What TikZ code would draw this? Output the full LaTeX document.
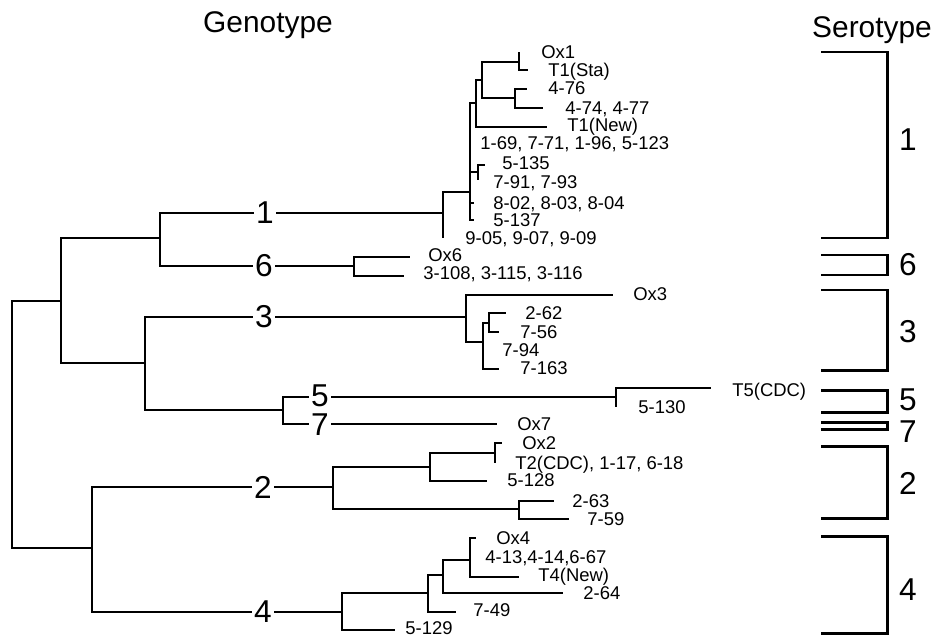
\documentclass[tikz,border=0pt]{standalone}
\usepackage{fontspec}
\setmainfont{Liberation Sans}
\usepackage{tikz}
\usetikzlibrary{calc,positioning}

\begin{document}
\begin{tikzpicture}[x=0.02cm,y=-0.02cm,
    br/.style={line width=1.1pt},
    bracket/.style={line width=1.7pt},
    leaf/.style={anchor=west,inner sep=0pt,font=\fontsize{10.5}{12}\selectfont,text height=7.5pt,text depth=0pt},
    clade/.style={fill=white,inner xsep=1.5pt,inner ysep=0pt,font=\fontsize{18}{21}\selectfont},
    heading/.style={font=\fontsize{17}{20}\selectfont}]
  \useasboundingbox (0,0) rectangle (936,636);

  % junctions (x of the node, y where the parent comes in)
  \coordinate (root) at (12,424);
  \coordinate (U) at (61,301);
  \coordinate (A) at (160,238);
  \coordinate (B) at (145,363);
  \coordinate (C) at (283,410);
  \coordinate (L) at (92,548);
  \coordinate (n1) at (443,213);
  \coordinate (n1a) at (470,192);
  \coordinate (n1b) at (476,103);
  \coordinate (n1c) at (482,80);
  \coordinate (nox1) at (519,62);
  \coordinate (n476) at (515,98);
  \coordinate (n1d) at (478,172);
  \coordinate (n6) at (354,266);
  \coordinate (n3) at (466,317);
  \coordinate (n3b) at (483,342);
  \coordinate (n3c) at (489,323);
  \coordinate (n5) at (616,397);
  \coordinate (n2) at (333,487);
  \coordinate (n2a) at (430,467);
  \coordinate (nox2) at (495,453);
  \coordinate (n2b) at (519,509);
  \coordinate (n4) at (342,612);
  \coordinate (n4a) at (428,593);
  \coordinate (n4b) at (443,575);
  \coordinate (n4c) at (470,560);

  % tips
  \coordinate (t-ox1) at (519,52);
  \coordinate (t-t1sta) at (528,70);
  \coordinate (t-476) at (527,89);
  \coordinate (t-474) at (543,108);
  \coordinate (t-t1new) at (547,127);
  \coordinate (t-169) at (470,143);
  \coordinate (t-5135) at (485,165);
  \coordinate (t-791) at (478,180);
  \coordinate (t-802) at (474,203);
  \coordinate (t-5137) at (474,220);
  \coordinate (t-905) at (443,238);
  \coordinate (t-ox6) at (410,257);
  \coordinate (t-3108) at (404,276);
  \coordinate (t-ox3) at (613,295);
  \coordinate (t-262) at (506,313);
  \coordinate (t-756) at (499,332);
  \coordinate (t-794) at (483,350);
  \coordinate (t-7163) at (499,369);
  \coordinate (t-t5) at (711,388);
  \coordinate (t-5130) at (616,407);
  \coordinate (t-ox7) at (497,424);
  \coordinate (t-ox2) at (502,443);
  \coordinate (t-t2) at (495,463);
  \coordinate (t-5128) at (487,481);
  \coordinate (t-263) at (554,501);
  \coordinate (t-759) at (569,519);
  \coordinate (t-ox4) at (476,538);
  \coordinate (t-413) at (470,557);
  \coordinate (t-t4new) at (519,577);
  \coordinate (t-264) at (563,593);
  \coordinate (t-749) at (456,612);
  \coordinate (t-5129) at (395,630);

  % branches
  \foreach \a/\b in {root/U,root/L,U/A,U/B,A/n1,A/n6,B/n3,B/C,C/n5,C/t-ox7,L/n2,L/n4,
      n1/n1a,n1/t-905,n1a/n1b,n1a/t-169,n1a/n1d,n1a/t-802,n1a/t-5137,n1b/n1c,n1b/t-t1new,
      n1c/nox1,n1c/n476,nox1/t-ox1,nox1/t-t1sta,n476/t-476,n476/t-474,n1d/t-5135,n1d/t-791,
      n6/t-ox6,n6/t-3108,n3/t-ox3,n3/n3b,n3b/n3c,n3b/t-794,n3b/t-7163,n3c/t-262,n3c/t-756,
      n5/t-t5,n5/t-5130,n2/n2a,n2/n2b,n2a/nox2,n2a/t-5128,nox2/t-ox2,nox2/t-t2,
      n2b/t-263,n2b/t-759,n4/n4a,n4/t-5129,n4a/n4b,n4a/t-749,n4b/n4c,n4b/t-264,
      n4c/t-ox4,n4c/t-413,n4c/t-t4new}
    \draw[br] (\a) |- (\b);

  % genotype numbers on the branches
  \node[clade] (g1) at (265,213) {1};
  \node[clade] (g6) at (264,266) {6};
  \node[clade] (g3) at (264,317) {3};
  \node[clade] (g5) at (320,396) {5};
  \node[clade] (g7) at (320,425) {7};
  \node[clade] (g2) at (263,487) {2};
  \node[clade] (g4) at (263,612) {4};

  % strain labels
  \node[leaf] (l-ox1) at (541,52) {Ox1};
  \node[leaf] (l-t1sta) at (548,70) {T1(Sta)};
  \node[leaf] (l-476) at (548,88) {4-76};
  \node[leaf] (l-474) at (565,108) {4-74, 4-77};
  \node[leaf] (l-t1new) at (567,125) {T1(New)};
  \node[leaf] (l-169) at (480,143) {1-69, 7-71, 1-96, 5-123};
  \node[leaf] (l-5135) at (502,163) {5-135};
  \node[leaf] (l-791) at (493,182) {7-91, 7-93};
  \node[leaf] (l-802) at (493,203) {8-02, 8-03, 8-04};
  \node[leaf] (l-5137) at (493,220) {5-137};
  \node[leaf] (l-905) at (465,238) {9-05, 9-07, 9-09};
  \node[leaf] (l-ox6) at (428,255) {Ox6};
  \node[leaf] (l-3108) at (423,273) {3-108, 3-115, 3-116};
  \node[leaf] (l-ox3) at (633,294) {Ox3};
  \node[leaf] (l-262) at (525,313) {2-62};
  \node[leaf] (l-756) at (520,332) {7-56};
  \node[leaf] (l-794) at (502,350) {7-94};
  \node[leaf] (l-7163) at (520,368) {7-163};
  \node[leaf] (l-t5) at (732,390) {T5(CDC)};
  \node[leaf] (l-5130) at (638,407) {5-130};
  \node[leaf] (l-ox7) at (517,424) {Ox7};
  \node[leaf] (l-ox2) at (522,443) {Ox2};
  \node[leaf] (l-t2) at (515,463) {T2(CDC), 1-17, 6-18};
  \node[leaf] (l-5128) at (507,480) {5-128};
  \node[leaf] (l-263) at (572,501) {2-63};
  \node[leaf] (l-759) at (587,519) {7-59};
  \node[leaf] (l-ox4) at (496,538) {Ox4};
  \node[leaf] (l-413) at (485,557) {4-13,4-14,6-67};
  \node[leaf] (l-t4new) at (538,575) {T4(New)};
  \node[leaf] (l-264) at (583,593) {2-64};
  \node[leaf] (l-749) at (473,610) {7-49};
  \node[leaf] (l-5129) at (405,628) {5-129};

  % serotype brackets
  \foreach \t/\b/\ly/\l in {52/238/140/1,255/275/265/6,290/370/332/3,390/412/400/5,
      422/429/432/7,446/518/483/2,536/633/590/4}{
    \draw[bracket] (821,\t) -| (887,\b) -- (821,\b);
    \node[clade,fill=none] (s\l) at (908,\ly) {\l};
  }

  \node[heading] (geno) at (268,25) {Genotype};
  \node[heading] (sero) at (872,30) {Serotype};
\end{tikzpicture}
\end{document}
